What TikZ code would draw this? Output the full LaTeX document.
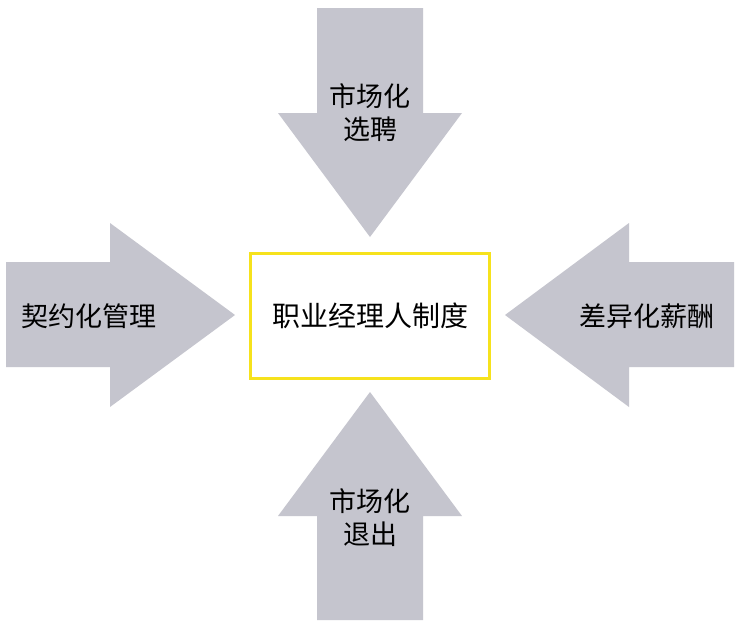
\documentclass[tikz,border=0pt]{standalone}
\usepackage{fontspec}
\newfontfamily\cjk{Noto Sans CJK SC}
\definecolor{arrowgray}{RGB}{197,197,206}
\definecolor{boxyellow}{RGB}{246,226,28}
\begin{document}
\begin{tikzpicture}[x=1pt,y=-1pt,
  arrowshape/.style={fill=arrowgray, draw=none},
  lbl/.style={font=\cjk\fontsize{27}{33}\selectfont, align=center, text=black, inner sep=0pt},
  centerbox/.style={draw=boxyellow, line width=3pt, fill=white, minimum width=239pt, minimum height=125pt, inner sep=0pt, font=\cjk\fontsize{28}{33}\selectfont}]
\useasboundingbox (0,0) rectangle (740,630);
\fill[white] (0,0) rectangle (740,630);
% top arrow
\fill[arrowshape] (317,8) -- (423,8) -- (423,113) -- (462,113) -- (370,237) -- (278,113) -- (317,113) -- cycle;
% left arrow
\fill[arrowshape] (6,262) -- (110,262) -- (110,223) -- (235,315) -- (110,407) -- (110,367) -- (6,367) -- cycle;
% right arrow
\fill[arrowshape] (734,262) -- (629,262) -- (629,223) -- (505,315) -- (629,407) -- (629,367) -- (734,367) -- cycle;
% bottom arrow
\fill[arrowshape] (317,620) -- (423,620) -- (423,516) -- (462,516) -- (370,392) -- (278,516) -- (317,516) -- cycle;
% center
\node[centerbox] (core) at (370,316) {职业经理人制度};
% labels
\node[lbl] (top) at (370,113) {市场化\\选聘};
\node[lbl] (left) at (89,316) {契约化管理};
\node[lbl] (right) at (647,316) {差异化薪酬};
\node[lbl] (bottom) at (370,518) {市场化\\退出};
\end{tikzpicture}
\end{document}
